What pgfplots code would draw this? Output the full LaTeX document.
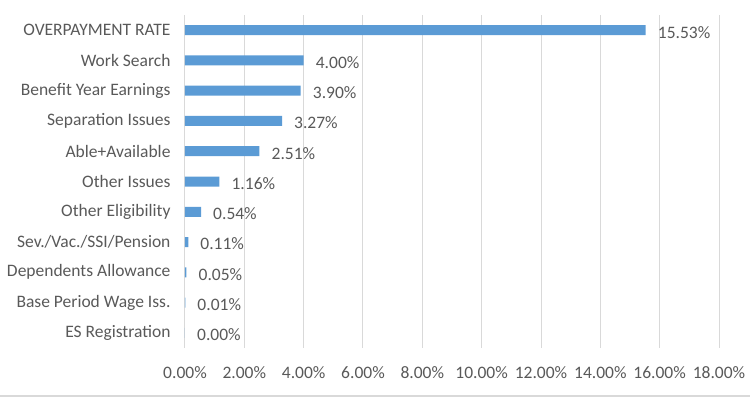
\documentclass[border=0pt]{standalone}
\usepackage{pgfplots}
\pgfplotsset{compat=1.18}
\usepackage{fontspec}
\setmainfont{Carlito}
\definecolor{barblue}{HTML}{5B9BD5}
\definecolor{txtgray}{HTML}{595959}
\definecolor{gridgray}{HTML}{D9D9D9}
\begin{document}
\begin{tikzpicture}[x=1bp,y=1bp]
\path[use as bounding box] (-185bp,-49bp) rectangle (565bp,348bp);
\begin{axis}[
  at={(0,0)}, anchor=south west,
  scale only axis, width=534bp, height=333bp,
  xbar, bar width=10bp,
  xmin=0, xmax=18, ymin=-0.5, ymax=10.5,
  y dir=reverse,
  xtick={0,2,...,18},
  ytick={0,...,10},
  yticklabels={OVERPAYMENT RATE,Work Search,Benefit Year Earnings,Separation Issues,Able+Available,Other Issues,Other Eligibility,Sev./Vac./SSI/Pension,Dependents Allowance,Base Period Wage Iss.,ES Registration},
  axis line style={draw=none},
  major tick length=0pt,
  xmajorgrids, grid style={gridgray, line width=1bp},
  /pgf/number format/assume math mode=true,
  xticklabel={\pgfmathprintnumber[fixed,fixed zerofill,precision=2]{\tick}\%},
  font=\fontsize{17.5bp}{20bp}\selectfont,
  ticklabel style={font=\fontsize{17.5bp}{20bp}\selectfont, text=txtgray},
  xticklabel style={yshift=-15bp},
  yticklabel style={xshift=-11bp},
  nodes near coords={\pgfmathprintnumber[fixed,fixed zerofill,precision=2,assume math mode=true]{\pgfplotspointmeta}\%},
  every node near coord/.append style={anchor=west, inner sep=0pt, xshift=12bp, yshift=-2bp, text=txtgray, font=\fontsize{17.5bp}{20bp}\selectfont},
  point meta=x,
]
\addplot[fill=barblue, draw=none] coordinates {
 (15.53,0) (4.00,1) (3.90,2) (3.27,3) (2.51,4) (1.16,5) (0.54,6) (0.11,7) (0.05,8) (0.01,9) (0.00,10)
};
\end{axis}
\draw[gridgray, line width=1.5bp] (-185bp,-48bp) -- (565bp,-48bp);
\end{tikzpicture}
\end{document}
